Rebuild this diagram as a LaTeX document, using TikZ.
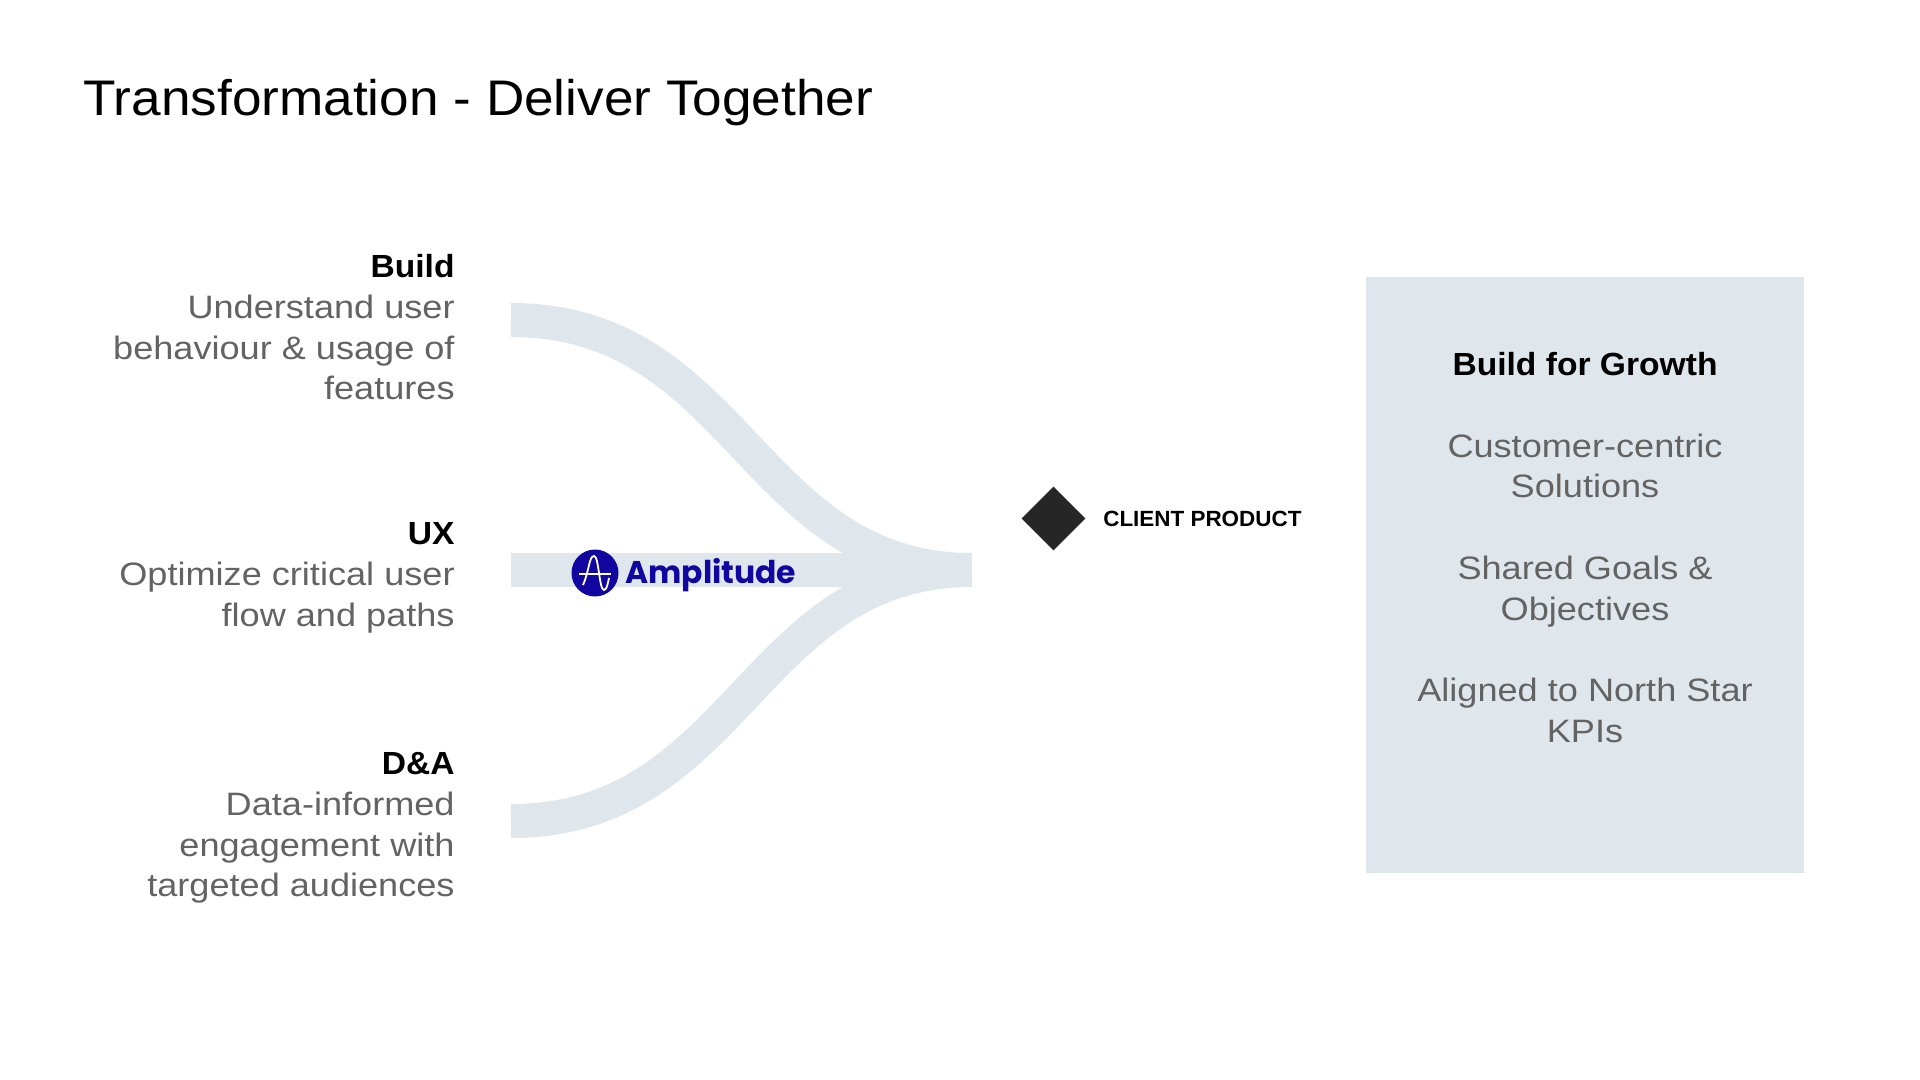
\documentclass[tikz,border=0pt]{standalone}
\usepackage{fontspec}
\setmainfont{Liberation Sans}
\newfontfamily\bodyfont[FakeStretch=1.115]{Liberation Sans}
\newfontfamily\titlefont[FakeStretch=1.063]{Liberation Sans}
\newfontfamily\headfont[FakeStretch=1.05]{Liberation Sans}
\newfontfamily\tagfont[FakeStretch=1.02]{Liberation Sans}
\newfontfamily\logofont{Poppins}
\usetikzlibrary{shapes.geometric,positioning}
\definecolor{ribbon}{HTML}{E0E7EC}
\definecolor{bodygrey}{HTML}{636363}
\definecolor{logoblue}{HTML}{1206A0}
\definecolor{markgrey}{HTML}{262626}
\tikzset{
  ribbon/.style={draw=ribbon,line width=17pt},
  sidetext/.style={anchor=north east,align=right,inner sep=0pt,text=bodygrey,font=\bodyfont\fontsize{16.2}{20.4}\selectfont},
  goaltext/.style={anchor=north,align=center,inner sep=0pt,text=bodygrey,font=\bodyfont\fontsize{16.2}{20.4}\selectfont},
}
\newcommand{\hd}[1]{\textcolor{black}{\headfont\bfseries\fontsize{16}{20.4}\selectfont #1}}
\begin{document}
\begin{tikzpicture}[x=0.5pt,y=-0.5pt]
\useasboundingbox (0,0) rectangle (1920,1080);

\node[anchor=base west,inner sep=0pt,font=\titlefont\fontsize{25}{30}\selectfont] (title) at(83,116) {Transformation - Deliver Together};

\coordinate (buildstart) at(511,320);
\coordinate (uxstart) at(511,570);
\coordinate (dastart) at(511,821);
\coordinate (merge) at(972,570);

\draw[ribbon] (buildstart) .. controls (738,320) and (752,570) .. (merge);
\draw[ribbon] (uxstart) -- (merge);
\draw[ribbon] (dastart) .. controls (738,821) and (752,570) .. (merge);

\node[sidetext] (build) at(455,254) {\hd{Build}\\Understand user\\behaviour \& usage of\\features};
\node[sidetext] (ux) at(455,522) {\hd{UX}\\Optimize critical user\\flow and paths};
\node[sidetext] (da) at(455,752) {\hd{D\&A}\\Data-informed\\engagement with\\targeted audiences};

% logo
\node[circle,fill=logoblue,minimum size=23.5pt,inner sep=0pt] (logo) at(595,573) {};
\draw[white,line width=0.8pt] (579,574) -- (611,574);
\draw[white,line width=0.9pt] (583,585) .. controls (589,572) and (589,556) .. (594,556) .. controls (599,556) and (599,590) .. (604,590) .. controls (607,590) and (608,582) .. (609,578);
\node[right=3pt of logo,yshift=-1.2pt,inner sep=0pt,text=logoblue,font=\logofont\bfseries\fontsize{15.7}{18}\selectfont] (ampl) {Amplitude};

\node[diamond,fill=markgrey,minimum width=32pt,minimum height=32pt,inner sep=0pt] (product) at(1053.5,518.5) {};
\node[right=8.5pt of product,inner sep=0pt,font=\tagfont\bfseries\fontsize{11}{13}\selectfont] (productlabel) {CLIENT PRODUCT};

\fill[fill=ribbon] (1366,277) rectangle (1804,873);
\node[goaltext] (goals) at(1585,352) {\hd{Build for Growth}\\[20.4pt]Customer-centric\\Solutions\\[20.4pt]Shared Goals \&\\Objectives\\[20.4pt]Aligned to North Star\\KPIs};
\end{tikzpicture}
\end{document}
